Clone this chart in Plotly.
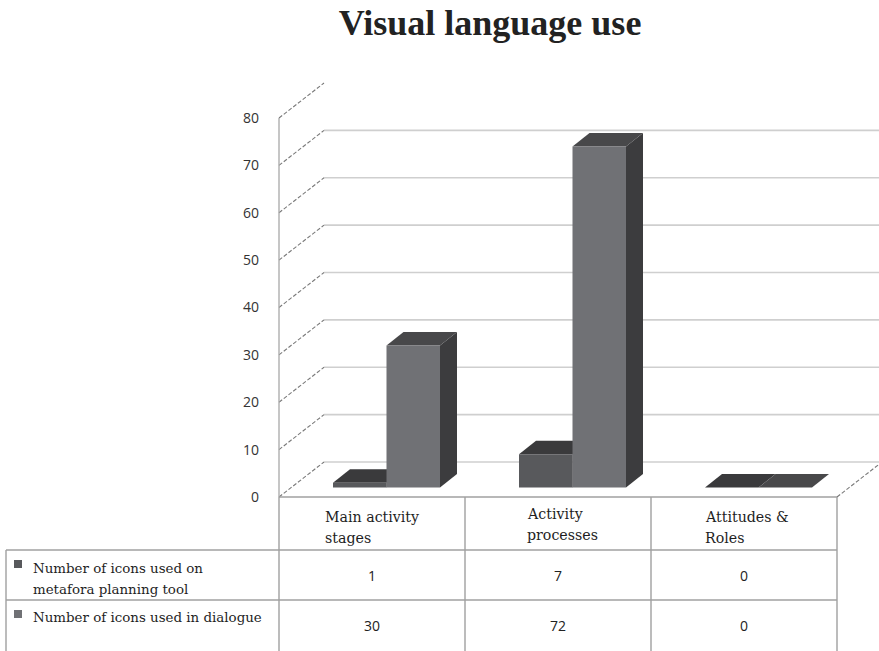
import plotly.graph_objects as go

# ---------------- data ----------------
categories = ["Main activity stages", "Activity processes", "Attitudes & Roles"]
header_lines = [["Main activity", "stages"], ["Activity", "processes"], ["Attitudes &amp;", "Roles"]]
series_names = ["Number of icons used on metafora planning tool",
                "Number of icons used in dialogue"]
series_lines = [["Number of icons used on", "metafora planning tool"],
                ["Number of icons used in dialogue"]]
planning_tool = [1, 7, 0]
dialogue = [30, 72, 0]
y_ticks = [0, 10, 20, 30, 40, 50, 60, 70, 80]
title_text = "Visual language use"

# ---------------- geometry (layout only) ----------------
W, H = 879, 651
PX_CAT = 186.0      # pixels per category
C0 = 372.0          # pixel x of first category centre (front plane)
PY_UNIT = 4.7375    # pixels per value unit
Y0 = 497.0          # pixel y of value 0 (front plane)

def px2x(p):
    return (p - C0) / PX_CAT

def py2y(p):
    return (Y0 - p) / PY_UNIT

def dx(p):
    return p / PX_CAT

def dy(p):
    return p / PY_UNIT

x_range = [px2x(0), px2x(W)]
y_range = [py2y(H), py2y(0)]

DEPTH_X, DEPTH_Y = dx(45), dy(35)      # full depth of the 3D box
FRONT_X, FRONT_Y = dx(14.5), dy(9.5)   # bars' front plane offset
BAR_DX, BAR_DY = dx(17), dy(13.5)      # bars' own depth
BAR_W = dx(53.5)
LEFT, RIGHT = -0.5, len(categories) - 0.5

front_cols = ["#58595c", "#707175"]
top_cols = ["#3a3a3c", "#48484a"]
side_cols = ["#3a3a3c", "#3c3c3e"]
grid_col = "#cfcfcf"
dash_col = "#7a7a7a"
table_col = "#a0a0a0"
DASH = "4px,2px"

shapes = []
# back wall gridlines
for v in y_ticks[:-1]:
    shapes.append(dict(type="line", xref="x", yref="y", layer="below",
                       x0=LEFT + DEPTH_X, x1=RIGHT + DEPTH_X + 0.2,
                       y0=v + DEPTH_Y, y1=v + DEPTH_Y,
                       line=dict(color=grid_col, width=1.6)))
# side wall dashed diagonals
for v in y_ticks:
    shapes.append(dict(type="line", xref="x", yref="y", layer="below",
                       x0=LEFT, x1=LEFT + DEPTH_X, y0=v, y1=v + DEPTH_Y,
                       line=dict(color=dash_col, width=1.1, dash=DASH)))
# floor right dashed edge
shapes.append(dict(type="line", xref="x", yref="y", layer="below",
                   x0=RIGHT, x1=RIGHT + DEPTH_X, y0=0, y1=DEPTH_Y,
                   line=dict(color=dash_col, width=1.1, dash=DASH)))
# value axis line
shapes.append(dict(type="line", xref="x", yref="y", layer="below",
                   x0=LEFT, x1=LEFT, y0=0, y1=y_ticks[-1],
                   line=dict(color="#a8a8a8", width=1.3)))

# 3D faces of bars (tops and sides), computed from the data
series_vals = [planning_tool, dialogue]
for s, vals in enumerate(series_vals):
    for i, v in enumerate(vals):
        x0 = i + FRONT_X + (-BAR_W if s == 0 else 0)
        x1 = x0 + BAR_W
        base = FRONT_Y
        top = base + v
        shapes.append(dict(type="path", xref="x", yref="y", layer="below",
                           path=f"M{x1},{base} L{x1},{top} L{x1+BAR_DX},{top+BAR_DY} "
                                f"L{x1+BAR_DX},{base+BAR_DY} Z",
                           fillcolor=side_cols[s], line=dict(width=0)))
        shapes.append(dict(type="path", xref="x", yref="y", layer="below",
                           path=f"M{x0},{top} L{x1},{top} L{x1+BAR_DX},{top+BAR_DY} "
                                f"L{x0+BAR_DX},{top+BAR_DY} Z",
                           fillcolor=top_cols[s], line=dict(width=0)))

# data table lines
tl = dict(color=table_col, width=1.4)
col_edges = [LEFT + k for k in range(len(categories) + 1)]
table_left = px2x(6)
row_y = [0, py2y(550), py2y(600), py2y(652)]
shapes.append(dict(type="line", xref="x", yref="y", x0=LEFT, x1=RIGHT, y0=0, y1=0, line=tl))
for ry in row_y[1:3]:
    shapes.append(dict(type="line", xref="x", yref="y", x0=table_left, x1=RIGHT,
                       y0=ry, y1=ry, line=tl))
for cx in col_edges:
    shapes.append(dict(type="line", xref="x", yref="y", x0=cx, x1=cx,
                       y0=0, y1=row_y[-1], line=tl))
shapes.append(dict(type="line", xref="x", yref="y", x0=table_left, x1=table_left,
                   y0=row_y[1], y1=row_y[-1], line=tl))
# legend keys in the table
key_y = [(560, 568), (610, 618)]
for s in range(2):
    shapes.append(dict(type="rect", xref="x", yref="y",
                       x0=px2x(14), x1=px2x(22), y0=py2y(key_y[s][1]), y1=py2y(key_y[s][0]),
                       fillcolor=front_cols[s], line=dict(width=0)))

fig = go.Figure()
for s, vals in enumerate(series_vals):
    fig.add_trace(go.Bar(
        x=[i + FRONT_X for i in range(len(categories))],
        y=vals, base=FRONT_Y, width=BAR_W,
        offset=-BAR_W if s == 0 else 0,
        marker=dict(color=front_cols[s], line=dict(width=0)),
        name=series_names[s], showlegend=False, hoverinfo="skip"))

serif = "DejaVu Serif"
sans = "Open Sans"
annotations = []
header_left = [323, 525, 703]
header_y = [[517, 538], [514, 535], [517, 538]]
for i, lines in enumerate(header_lines):
    for k, ln in enumerate(lines):
        annotations.append(dict(x=px2x(header_left[i]), y=py2y(header_y[i][k]), xref="x", yref="y",
                                text=ln, showarrow=False, xanchor="left", yanchor="middle",
                                font=dict(family=serif, size=14.2, color="#1e1e1e")))
row_centres = [575, 625]
for s, vals in enumerate(series_vals):
    for i, v in enumerate(vals):
        annotations.append(dict(x=i, y=py2y(row_centres[s]), xref="x", yref="y", text=str(v),
                                showarrow=False, xanchor="center", yanchor="middle",
                                font=dict(family=sans, size=14, color="#222")))
label_y = [[568, 589], [617]]
for s, lines in enumerate(series_lines):
    for k, ln in enumerate(lines):
        annotations.append(dict(x=px2x(31), y=py2y(label_y[s][k]), xref="x", yref="y", text=ln,
                                showarrow=False, xanchor="left", yanchor="middle",
                                font=dict(family=serif, size=13.4, color="#1e1e1e")))

fig.update_layout(
    width=W, height=H, margin=dict(l=0, r=0, t=0, b=0),
    paper_bgcolor="white", plot_bgcolor="white",
    shapes=shapes, annotations=annotations,
    barmode="overlay",
    title=dict(text=f"<b>{title_text}</b>", x=490 / W, y=1 - 22 / H,
               xanchor="center", yanchor="middle",
               font=dict(family="Liberation Serif", size=36, color="#222")),
    xaxis=dict(range=x_range, visible=False, domain=[0, 1], fixedrange=True),
    yaxis=dict(range=y_range, domain=[0, 1], anchor="free", position=280 / W,
               tickvals=y_ticks, ticktext=[str(t) for t in y_ticks],
               showgrid=False, zeroline=False, showline=False, ticks="",
               ticklabelstandoff=21,
               tickfont=dict(family=sans, size=14, color="#333"), fixedrange=True),
)

fig.write_html("out.html")
